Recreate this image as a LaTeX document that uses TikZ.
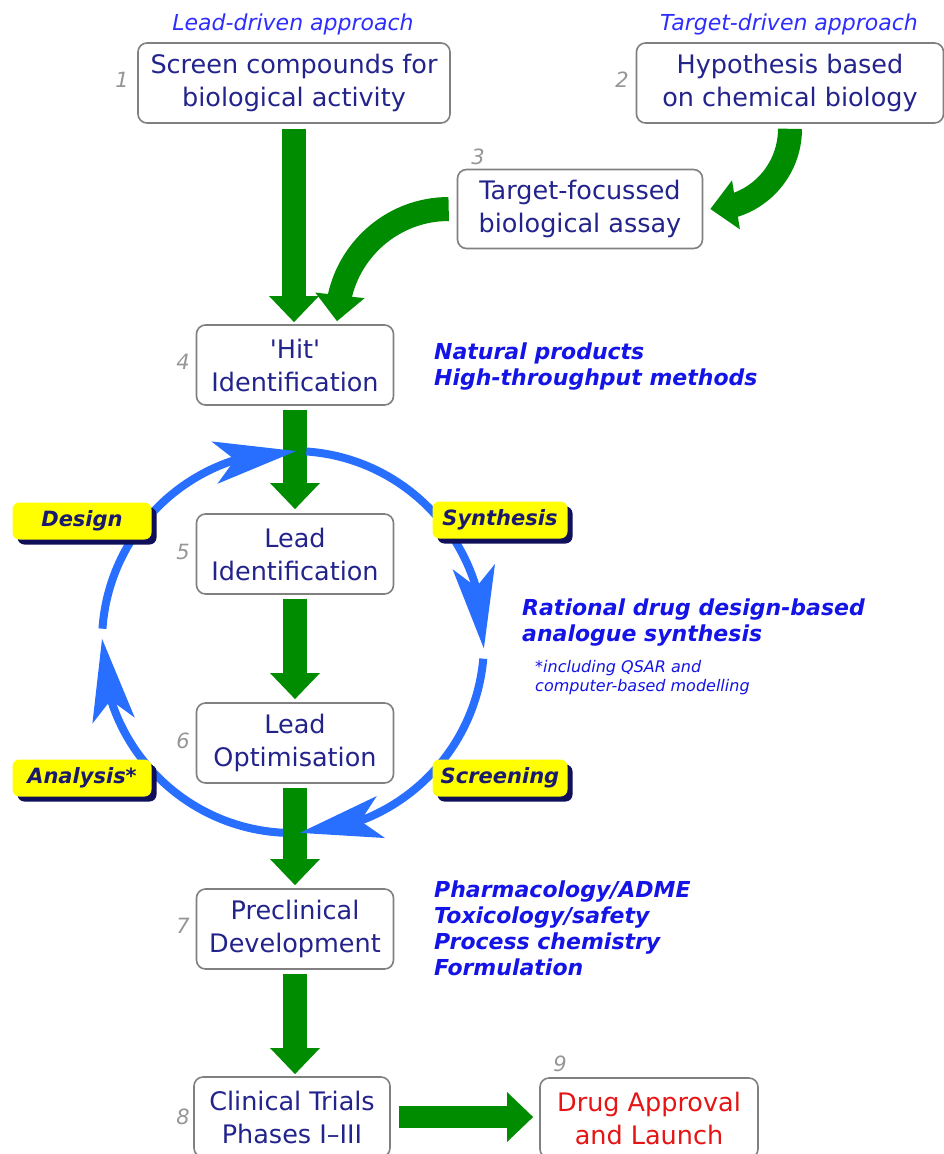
\documentclass[tikz,border=0pt]{standalone}
\usepackage{fontspec}
\setmainfont{DejaVu Sans}[Ligatures=TeXOff]
\usetikzlibrary{arrows.meta,bending,shadows}

\definecolor{boxtext}{RGB}{35,35,140}
\definecolor{boxgray}{RGB}{128,128,128}
\definecolor{headblue}{RGB}{45,45,255}
\definecolor{listblue}{RGB}{20,20,230}
\definecolor{tagnavy}{RGB}{25,25,110}
\definecolor{shadownavy}{RGB}{15,15,90}
\definecolor{tagyellow}{RGB}{255,255,0}
\definecolor{flowgreen}{RGB}{0,140,0}
\definecolor{cycleblue}{RGB}{40,110,255}
\definecolor{numgray}{RGB}{150,150,150}
\definecolor{launchred}{RGB}{230,20,20}

\tikzset{
  box/.style={draw=boxgray, line width=1.6pt, rounded corners=9pt, fill=white,
    text=boxtext, font=\fontsize{25.5}{33}\selectfont, align=center, inner sep=0pt,
    minimum height=80pt},
  num/.style={text=numgray, font=\itshape\fontsize{21}{24}\selectfont, inner sep=0pt},
  header/.style={text=headblue, font=\itshape\fontsize{22}{24}\selectfont, inner sep=0pt},
  listtext/.style={text=listblue, font=\bfseries\itshape\fontsize{22}{26}\selectfont,
    align=left, inner sep=0pt, anchor=west},
  notetext/.style={text=listblue, font=\itshape\fontsize{16}{19}\selectfont,
    align=left, inner sep=0pt, anchor=west},
  tag/.style={fill=tagyellow, rounded corners=7pt, minimum width=139pt,
    minimum height=37pt, inner sep=0pt, text=tagnavy,
    font=\bfseries\itshape\fontsize{21}{24}\selectfont,
    drop shadow={shadow xshift=5pt, shadow yshift=-5pt, fill=shadownavy, opacity=1}},
  garrow/.style={draw=flowgreen, line width=24pt, -{Triangle[length=26pt,width=48pt]}},
  carrow/.style={draw=cycleblue, line width=8pt,
    -{Stealth[length=82pt,width=42pt,inset=20pt,flex]}},
}

\begin{document}
\begin{tikzpicture}[x=1pt,y=-1pt]
\clip (0,0) rectangle (944,1154);
\fill[white] (0,0) rectangle (944,1154);

% approach headers
\node[header] (hl) at (293,24) {Lead-driven approach};
\node[header] (ht) at (789,24) {Target-driven approach};

% process boxes
\node[box, minimum width=312pt] (b1) at (294,83) {Screen compounds for\\biological activity};
\node[box, minimum width=307pt] (b2) at (790,83) {Hypothesis based\\on chemical biology};
\node[box, minimum width=245pt, minimum height=79pt] (b3) at (580,209) {Target-focussed\\biological assay};
\node[box, minimum width=197pt] (hit) at (295,365) {'Hit'\\Identification};
\node[box, minimum width=197pt] (lid) at (295,554) {Lead\\Identification};
\node[box, minimum width=197pt] (lopt) at (295,743) {Lead\\Optimisation};
\node[box, minimum width=197pt] (pre) at (295,929) {Preclinical\\Development};
\node[box, minimum width=196pt] (clin) at (292,1117) {Clinical Trials\\Phases I–III};
\node[box, minimum width=218pt, text=launchred] (drug) at (649,1118) {Drug Approval\\and Launch};

% step numbers
\node[num] (n1) at (122,80) {1};
\node[num] (n2) at (622,80) {2};
\node[num] (n3) at (478,157) {3};
\node[num] (n4) at (183,362) {4};
\node[num] (n5) at (183,552) {5};
\node[num] (n6) at (183,741) {6};
\node[num] (n7) at (183,926) {7};
\node[num] (n8) at (183,1117) {8};
\node[num] (n9) at (560,1064) {9};

% main flow
\draw[garrow] ([yshift=-5pt]b1.south) -- ([yshift=2pt]b1.south |- hit.north);
\draw[garrow] ([xshift=-8pt]b3.west) to[out=180,in=90] ([xshift=42pt,yshift=3pt]hit.north);
\draw[garrow] ([yshift=-5pt]b2.south) to[out=-90,in=0] ([xshift=7pt]b3.east);
\draw[garrow] ([yshift=-4pt]hit.south) -- ([yshift=4pt]lid.north);
\draw[garrow] ([yshift=-4pt]lid.south) -- ([yshift=3pt]lopt.north);
\draw[garrow] ([yshift=-4pt]lopt.south) -- ([yshift=3pt]pre.north);
\draw[garrow] ([yshift=-4pt]pre.south) -- ([yshift=2pt]pre.south |- clin.north);
\draw[garrow, line width=22pt] ([xshift=8pt]clin.east) -- ([xshift=-6pt]clin.east -| drug.west);

% design cycle
\coordinate (cc) at (293,642);
\draw[carrow] (cc) ++(184:191) arc[start angle=184, end angle=271, radius=191];
\draw[carrow] (cc) ++(274:191) arc[start angle=274, end angle=362, radius=191];
\draw[carrow] (cc) ++(5:191) arc[start angle=5, end angle=88, radius=191];
\draw[carrow] (cc) ++(93:191) arc[start angle=93, end angle=181, radius=191];

\node[tag] (design) at (82,521) {Design};
\node[tag, minimum width=135pt] (synth) at (500,520) {Synthesis};
\node[tag] (analysis) at (82,778) {Analysis*};
\node[tag, minimum width=135pt] (screen) at (500,778) {Screening};

% side notes
\node[listtext] (hitnote) at (434,367) {Natural products\\High-throughput methods};
\node[listtext] (rational) at (522,623) {Rational drug design-based\\analogue synthesis};
\node[notetext] (qsar) at (535,678) {*including QSAR and\\computer-based modelling};
\node[listtext] (prenote) at (434,928) {Pharmacology/ADME\\Toxicology/safety\\Process chemistry\\Formulation};
\end{tikzpicture}
\end{document}
